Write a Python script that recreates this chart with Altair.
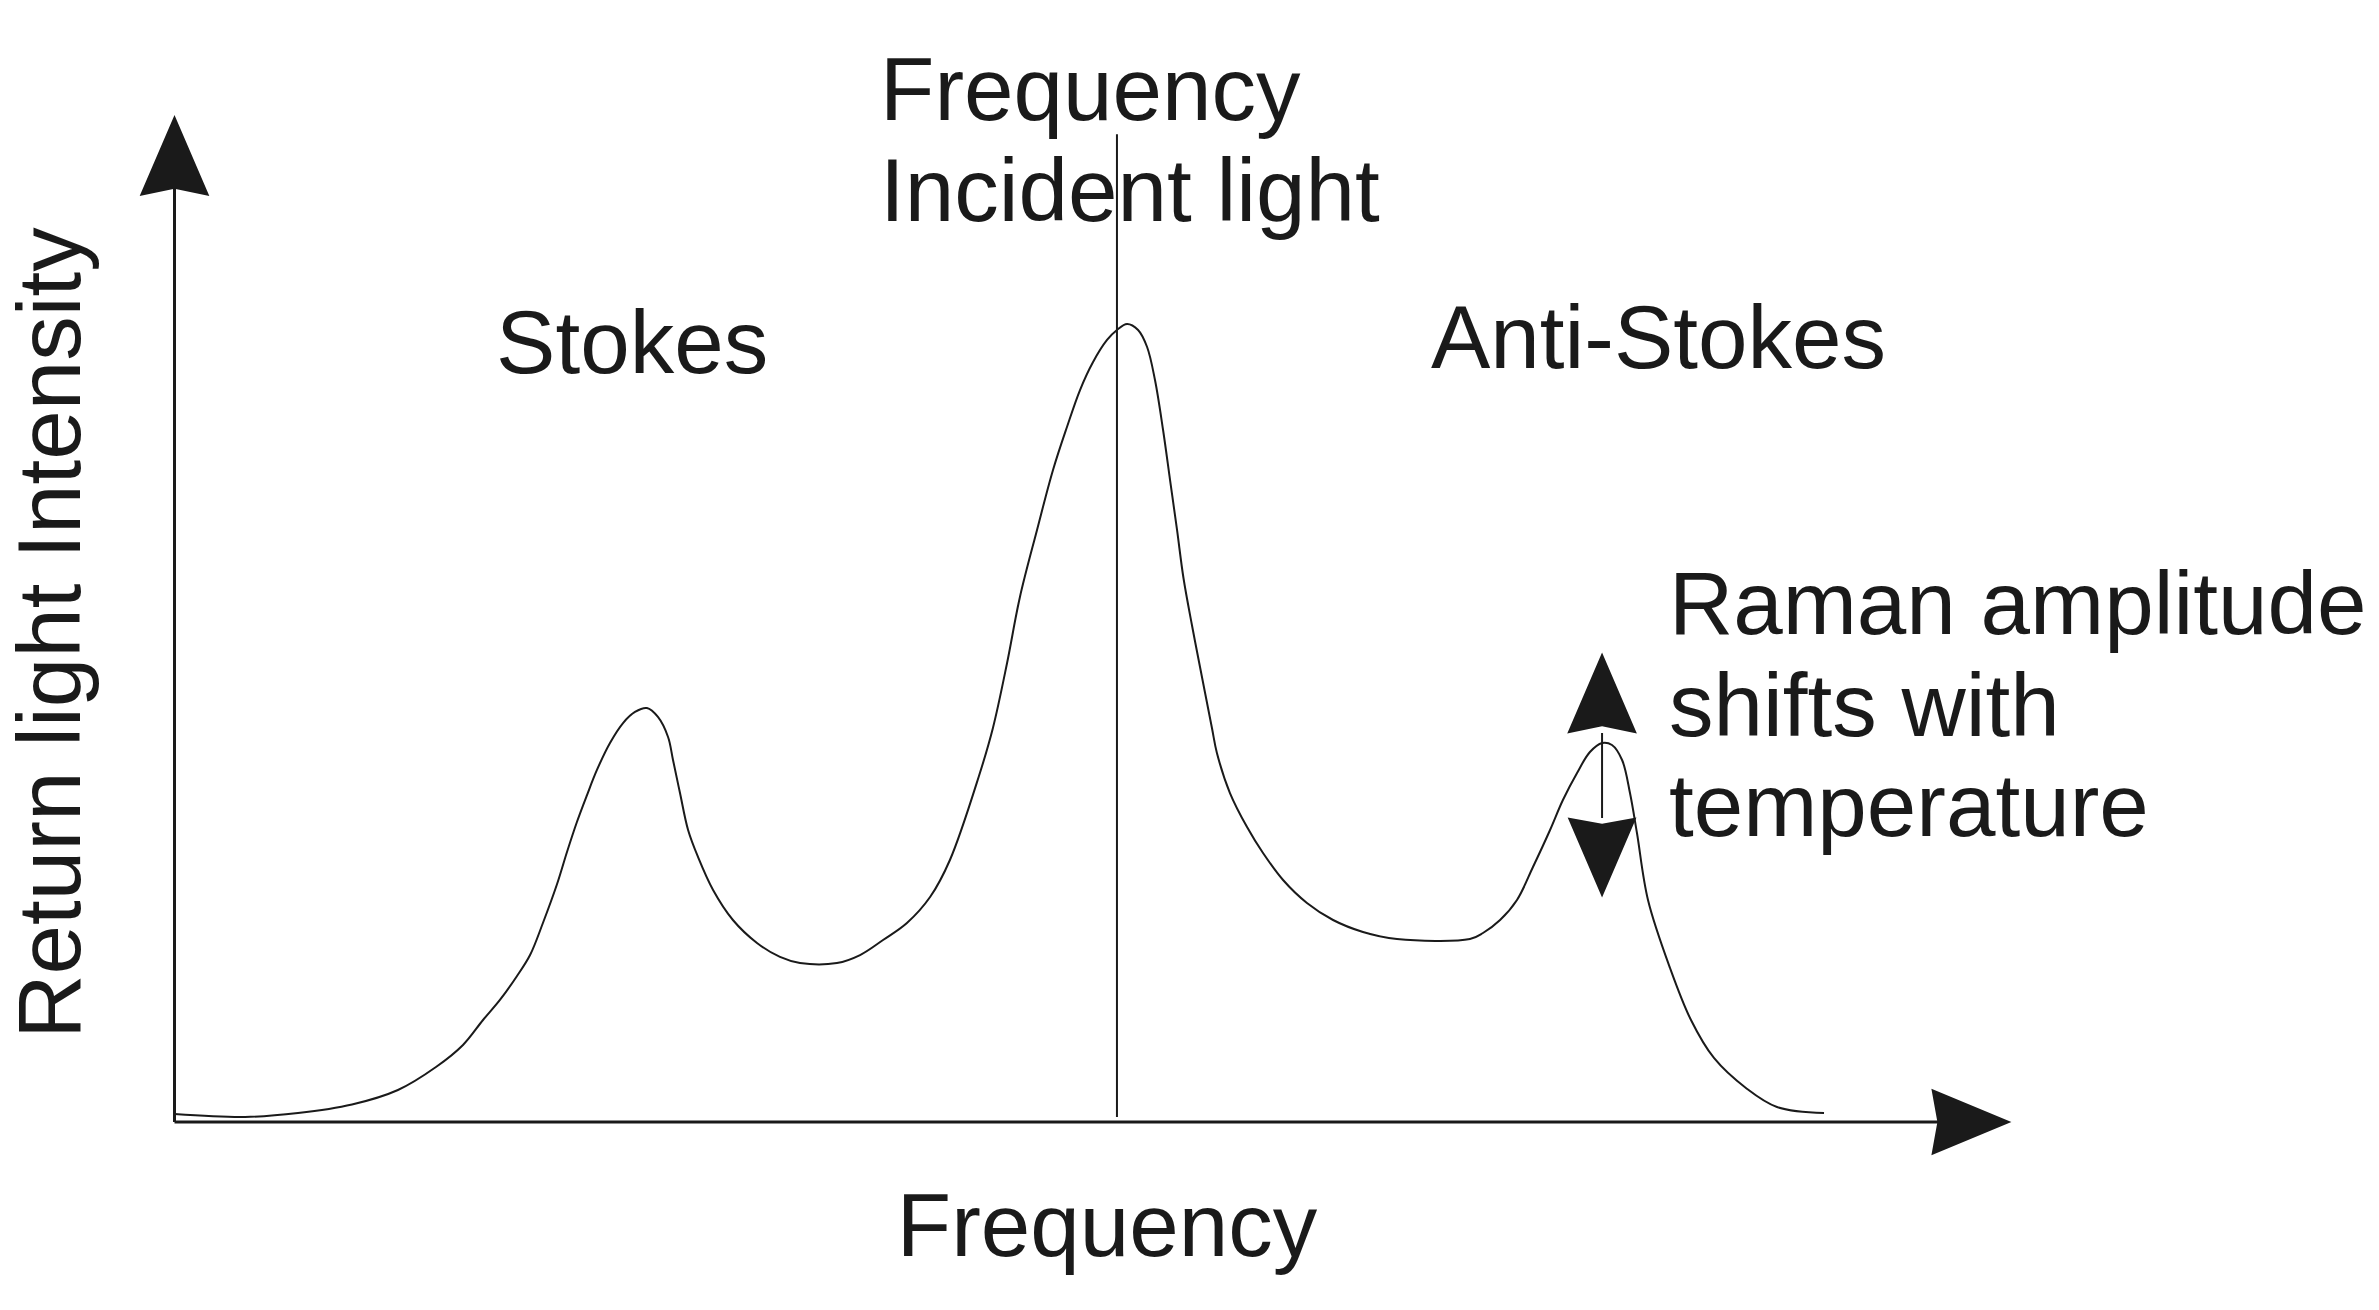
import altair as alt
import pandas as pd

# Spectrum curve (frequency, intensity in arbitrary units 0-100)
freq = [0, 3.84, 6.72, 9.66, 12.16, 14.23, 15.70, 16.79, 17.71, 18.64, 19.35, 20.05,
        20.82, 21.36, 21.90, 22.45, 22.99, 23.70, 24.41, 25.06, 25.71, 26.31, 26.86,
        27.13, 27.51, 27.95, 28.49, 29.31, 30.39, 31.70, 32.95, 34.04, 36.05, 37.31,
        38.56, 39.86, 41.12, 42.20, 43.78, 44.54, 45.31, 46.01, 46.94, 47.81, 48.57,
        49.28, 49.99, 50.75, 51.29, 51.84, 52.44, 52.93, 53.36, 53.80, 54.18, 54.56,
        54.91, 55.37, 55.81, 56.46, 56.73, 57.44, 58.37, 59.24, 60.33, 61.63, 63.05,
        64.68, 66.53, 70.50, 71.21, 72.14, 73.06, 73.93, 74.86, 75.56, 76.33, 77.03,
        77.69, 78.23, 78.78, 79.21, 79.59, 80.19, 81.39, 82.53, 83.78, 85.52, 87.21,
        89.77]
intensity = [0.79, 0.50, 0.89, 1.74, 3.18, 5.46, 7.65, 10.13, 12.12, 14.50, 16.58, 19.76,
             23.63, 26.81, 29.79, 32.47, 34.96, 37.64, 39.62, 40.72, 41.11, 40.22, 38.23,
             35.95, 32.67, 29.00, 26.32, 23.04, 20.06, 17.78, 16.39, 15.79, 15.79, 16.58,
             18.07, 19.76, 22.34, 26.02, 34.36, 39.13, 45.58, 52.14, 58.79, 64.75, 69.02,
             72.69, 75.47, 77.66, 78.65, 79.25, 78.65, 76.96, 73.68, 68.72, 63.75, 58.79,
             54.02, 49.35, 45.18, 39.13, 36.64, 32.67, 29.29, 26.71, 24.03, 21.75, 20.06,
             18.87, 18.17, 18.17, 18.77, 20.06, 22.05, 25.32, 29.00, 31.98, 34.66, 36.74,
             37.64, 37.44, 35.95, 32.67, 28.70, 22.05, 15.29, 10.13, 6.36, 3.38, 1.49,
             0.89]

# Incident light frequency marker
incident_freq = 51.29
incident_top = 98.1

# Axis lines and the temperature double-arrow shaft (data coordinates)
rule_x = [0, 0, 77.69]
rule_y = [0, 0, 30.19]
rule_x2 = [0, 96.1, 77.69]
rule_y2 = [93.0, 0, 38.63]
rule_w = [3, 3, 2]

up_x = [0, 77.69]
up_y = [95.98, 42.60]
down_x = [77.69]
down_y = [26.27]
right_x = [97.79]
right_y = [0]

# Text labels
label_text = ["Frequency", "Incident light", "Stokes", "Anti-Stokes",
              "Raman amplitude", "shifts with", "temperature"]
label_x = [38.4, 38.4, 17.5, 68.38, 81.33, 81.33, 81.33]
label_y = [99.46, 89.47, 74.38, 74.88, 48.46, 38.33, 28.40]

x_title = "Frequency"
y_title = "Return light Intensity"

INK = "#1a1a1a"
FONT = "Liberation Sans"
FS = 89

xs = alt.Scale(domain=[0, 100], range=[166.5, 2004], nice=False, zero=False)
ys = alt.Scale(domain=[0, 100], range=[1114, 107], nice=False, zero=False)

curve_df = pd.DataFrame({"f": freq, "I": intensity})
curve = alt.Chart(curve_df).mark_line(color=INK, strokeWidth=2, interpolate="catmull-rom").encode(
    x=alt.X("f:Q", scale=xs, axis=None),
    y=alt.Y("I:Q", scale=ys, axis=None),
)

inc_df = pd.DataFrame({"f": [incident_freq], "I": [0.5], "I2": [incident_top]})
incident = alt.Chart(inc_df).mark_rule(color=INK, strokeWidth=2).encode(
    x=alt.X("f:Q", scale=xs, axis=None),
    y=alt.Y("I:Q", scale=ys, axis=None),
    y2="I2:Q",
)

rules_df = pd.DataFrame({"f": rule_x, "I": rule_y, "f2": rule_x2, "I2": rule_y2, "w": rule_w})
rules = alt.Chart(rules_df).mark_rule(color=INK).encode(
    x=alt.X("f:Q", scale=xs, axis=None),
    y=alt.Y("I:Q", scale=ys, axis=None),
    x2="f2:Q",
    y2="I2:Q",
    strokeWidth=alt.StrokeWidth("w:Q", scale=None, legend=None),
)

UP = "M0,-1L0.86,1L0,0.82L-0.86,1Z"
DOWN = "M0,1L0.86,-1L0,-0.84L-0.86,-1Z"
RIGHT = "M1,0L-1,0.83L-0.85,0L-1,-0.83Z"

def heads(xv, yv, shape, size):
    df = pd.DataFrame({"f": xv, "I": yv})
    return alt.Chart(df).mark_point(shape=shape, filled=True, size=size, color=INK,
                                    opacity=1, strokeWidth=0).encode(
        x=alt.X("f:Q", scale=xs, axis=None),
        y=alt.Y("I:Q", scale=ys, axis=None),
    )

up_heads = heads(up_x, up_y, UP, 6561)
down_heads = heads(down_x, down_y, DOWN, 6400)
right_heads = heads(right_x, right_y, RIGHT, 6400)

lab_df = pd.DataFrame({"t": label_text, "f": label_x, "I": label_y})
labels = alt.Chart(lab_df).mark_text(align="left", baseline="alphabetic", font=FONT,
                                     fontSize=FS, color=INK).encode(
    x=alt.X("f:Q", scale=xs, axis=None),
    y=alt.Y("I:Q", scale=ys, axis=None),
    text="t:N",
)

xt_df = pd.DataFrame({"t": [x_title], "f": [50.75], "I": [-13.3]})
xtitle = alt.Chart(xt_df).mark_text(align="center", baseline="alphabetic", font=FONT,
                                    fontSize=FS, color=INK).encode(
    x=alt.X("f:Q", scale=xs, axis=None),
    y=alt.Y("I:Q", scale=ys, axis=None),
    text="t:N",
)

yt_df = pd.DataFrame({"t": [y_title], "f": [-5.14], "I": [48.56]})
ytitle = alt.Chart(yt_df).mark_text(align="center", baseline="alphabetic", font=FONT,
                                    fontSize=FS, color=INK, angle=270).encode(
    x=alt.X("f:Q", scale=xs, axis=None),
    y=alt.Y("I:Q", scale=ys, axis=None),
    text="t:N",
)

chart = alt.layer(
    curve, incident, rules, up_heads, down_heads, right_heads, labels, xtitle, ytitle
).properties(
    width=2363, height=1294,
    autosize=alt.AutoSizeParams(type="none"),
    padding=0,
    background="white",
).configure_view(stroke=None)

chart.save("out.html", embed_options={"renderer": "svg", "actions": False})
